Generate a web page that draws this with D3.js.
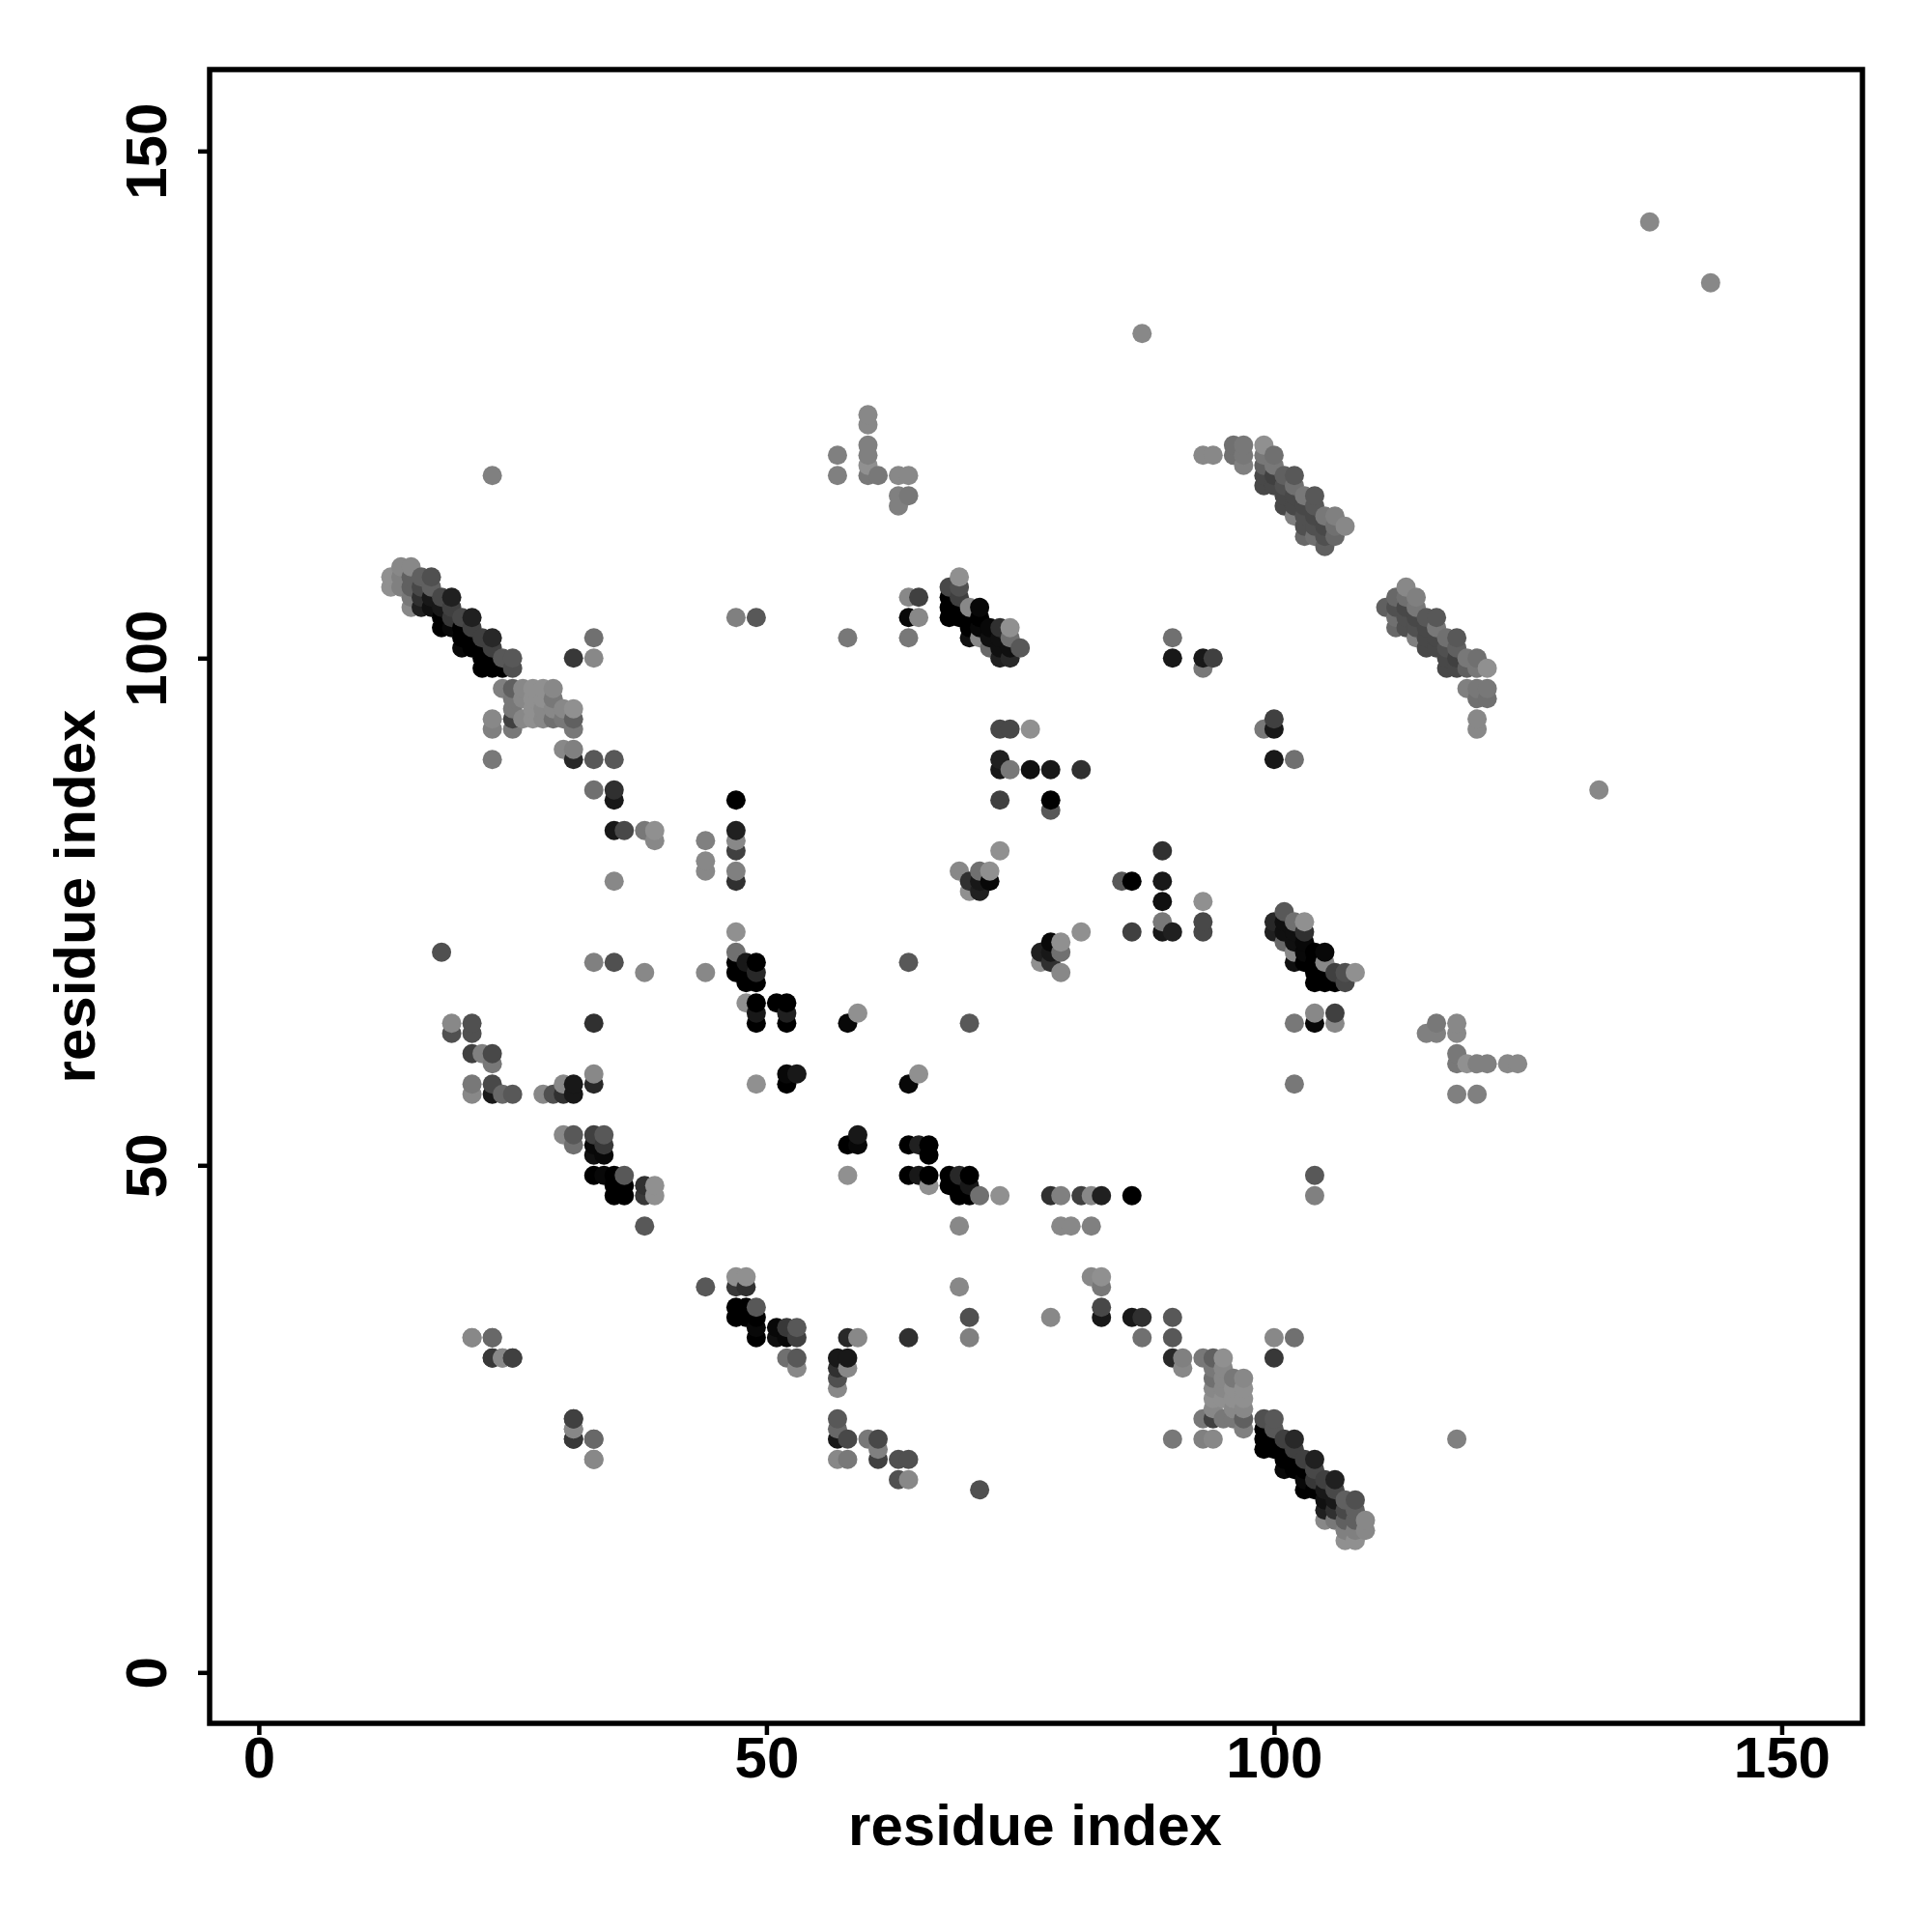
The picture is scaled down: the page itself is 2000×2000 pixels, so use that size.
<!DOCTYPE html>
<html>
<head>
<meta charset="utf-8">
<script src="https://cdn.jsdelivr.net/npm/d3@7/dist/d3.min.js"></script>
<style>
html,body{margin:0;padding:0;background:#fff;}
svg{display:block;}
text{font-family:"Liberation Sans",Arial,sans-serif;font-weight:700;fill:#000;}
</style>
</head>
<body>
<svg id="chart" width="2000" height="2000"></svg>
<script>
// Contacts [residue a, residue b, score], a < b. Score 0 (weak) to 90 (strong).
const xTicks = [0, 50, 100, 150];
const yTicks = [0, 50, 100, 150];
const xTitle = "residue index";
const yTitle = "residue index";

const helixBandA = [
[13,107,0],[13,108,0],[14,107,10],[14,108,10],[14,109,5],[15,105,5],[15,106,15],[15,107,30],[15,108,30],[15,109,5],
[16,105,70],[16,106,60],[16,107,45],[16,108,30],[17,105,80],[17,106,75],[17,107,30],[17,108,40],
[18,103,90],[18,104,90],[18,105,75],[18,106,45],[19,103,85],[19,104,55],[19,105,50],[19,106,70],
[20,101,85],[20,102,90],[20,103,90],[20,104,45],[21,101,90],[21,102,90],[21,103,50],[21,104,70],
[22,99,90],[22,100,90],[22,101,90],[22,102,50],[23,99,90],[23,100,90],[23,101,50],[23,102,65],
[24,99,90],[24,100,35],[25,99,40],[25,100,35]
];
const patchB = [
[23,90,15],[23,93,10],[23,94,5],[24,97,10],[25,93,15],[25,94,50],[25,95,15],[25,96,15],[25,97,30],
[26,94,5],[26,96,5],[26,97,5],[27,94,0],[27,95,0],[27,96,0],[27,97,0],[28,94,5],[28,95,5],[28,96,0],[28,97,0],
[29,94,20],[29,95,5],[29,96,15],[29,97,5],[30,91,5],[30,94,15],[30,95,5],
[31,90,65],[31,91,10],[31,93,15],[31,94,30],[31,95,0],
[31,100,55],[33,100,5],[33,102,20],[33,90,35],[35,90,35],[33,87,20],[35,86,75],[35,87,60]
];
const sheetC = [
[35,83,75],[36,83,45],[38,83,15],[39,82,5],[39,83,0],[35,78,5],
[44,79,5],[44,80,5],[44,82,10],[47,78,60],[47,79,10],[47,81,50],[47,82,5],[47,83,70],[47,86,90],
[47,69,90],[47,70,90],[47,71,20],[47,73,0],[48,68,90],[48,69,90],[48,70,75],[49,68,90],[49,69,65],[49,70,90],
[48,66,0],[49,64,90],[49,65,75],[49,66,90],[51,66,90],[52,64,90],[52,65,70],[52,66,90],
[33,70,10],[35,70,40],[38,69,5],[44,69,5],[18,71,40],[49,58,0],[52,58,90],[52,59,85],[53,59,75],[33,64,60]
];
const clusterD = [
[19,63,40],[19,64,5],[21,63,40],[21,64,40],[21,61,50],[22,61,10],[23,60,15],[23,61,45],
[21,57,5],[21,58,15],[23,57,75],[23,58,45],[24,57,25],[25,57,35],
[28,57,5],[29,57,40],[30,57,60],[30,58,5],[31,57,75],[31,58,75],[33,58,65],[33,59,5],
[30,53,5],[31,52,20],[31,53,35],[33,51,80],[33,52,85],[33,53,50],[34,51,85],[34,52,55],[34,53,35],
[33,49,90],[34,49,85],[35,49,90],[36,49,35],[35,47,90],[35,48,90],[36,47,90],[36,48,90],
[38,44,35],[38,47,55],[38,48,60],[39,47,0],[39,48,0],
[21,33,5],[23,33,25],[23,31,55],[24,31,5],[25,31,50],
[31,23,55],[31,24,5],[31,25,50],[33,23,25],[33,21,5]
];
const sheetE = [
[57,118,10],[57,120,10],[60,118,15],[60,119,0],[60,120,10],[60,121,10],[60,123,5],[60,124,5],[61,118,15],
[63,115,10],[63,116,10],[63,118,5],[64,116,15],[64,118,5],
[47,104,10],[49,104,35],[58,102,15],[64,102,15],[64,104,85],[64,106,5],[65,104,5],[65,106,50],
[58,64,85],[59,65,0],[64,70,35],
[68,104,90],[68,105,90],[68,106,90],[68,107,45],[69,104,90],[69,105,90],[69,106,50],[69,107,40],[69,108,0],
[70,102,80],[70,103,90],[70,104,90],[70,105,5],[71,102,5],[71,103,85],[71,104,90],[71,105,85],
[72,101,25],[72,102,80],[72,103,85],[73,100,70],[73,101,80],[73,102,80],[73,103,60],
[74,100,65],[74,101,80],[74,102,20],[74,103,0],[75,101,35]
];
const centreF = [
[73,93,45],[74,93,45],[76,93,0],[73,90,70],[73,89,75],[74,89,15],[76,89,80],[78,89,75],[81,89,60],
[73,86,50],[78,85,35],[78,86,90],[73,81,0],[69,79,5],[70,77,0],[70,78,60],[71,77,70],[71,78,75],[71,79,20],[72,78,85],[72,79,0]
];
const helixBandG = [
[93,120,5],[94,120,5],[96,120,20],[96,121,20],[97,119,10],[97,120,15],[97,121,15],
[99,117,45],[99,118,45],[99,119,30],[99,120,15],[99,121,0],[100,117,45],[100,118,50],[100,119,15],[100,120,20],
[101,115,45],[101,116,45],[101,117,40],[101,118,30],[102,114,10],[102,115,45],[102,116,45],[102,117,20],[102,118,35],
[103,112,25],[103,113,40],[103,114,40],[103,115,45],[103,116,15],[104,112,20],[104,113,40],[104,114,45],[104,115,35],[104,116,35],
[105,111,30],[105,112,40],[105,113,45],[105,114,15],[106,112,25],[106,113,20],[106,114,10],[107,113,5]
];
const scatterH = [
[23,118,10],[87,132,5],[137,143,5],[90,100,75],[90,102,20],[93,99,15],[93,100,75],[94,100,50]
];

const contacts = [helixBandA, patchB, sheetC, clusterD, sheetE, centreF, helixBandG, scatterH].flat();

const svg = d3.select("#chart");
const frame = {left:217, right:1928, top:72, bottom:1784};
const x = d3.scaleLinear().domain([0,150]).range([267.9,1844.4]);
const y = d3.scaleLinear().domain([0,150]).range([1731.3,156.3]);
const shade = d3.scaleLinear().domain([0,90]).range([144,0]);

// Every contact is drawn at both (a,b) and (b,a); later residue indices paint on top.
const marks = contacts.flatMap(([a,b,s]) => [{i:a,j:b,s},{i:b,j:a,s}])
  .sort((p,q) => d3.ascending(p.i,q.i) || d3.ascending(p.j,q.j));

svg.append("g").selectAll("circle").data(marks).join("circle")
  .attr("cx", d => x(d.i)).attr("cy", d => y(d.j)).attr("r", 10)
  .attr("fill", d => { const g = Math.round(shade(d.s)); return `rgb(${g},${g},${g})`; });

svg.append("rect").attr("x",frame.left).attr("y",frame.top)
  .attr("width",frame.right-frame.left).attr("height",frame.bottom-frame.top)
  .attr("fill","none").attr("stroke","#000").attr("stroke-width",5.5);

const xAxis = svg.append("g").attr("transform",`translate(0,${frame.bottom})`)
  .call(d3.axisBottom(x).tickValues(xTicks).tickSize(12).tickPadding(0).tickFormat(d3.format("d")));
xAxis.select(".domain").remove();
xAxis.selectAll("line").attr("stroke","#000").attr("stroke-width",4.5);
xAxis.selectAll("text").attr("y",56).attr("dy",0).style("font-size","60px").attr("text-anchor","middle");

const yAxis = svg.append("g").attr("transform",`translate(${frame.left},0)`)
  .call(d3.axisLeft(y).tickValues(yTicks).tickSize(12).tickPadding(0).tickFormat(d3.format("d")));
yAxis.select(".domain").remove();
yAxis.selectAll("line").attr("stroke","#000").attr("stroke-width",4.5);
yAxis.selectAll("text").attr("x",0).attr("y",0).attr("dy",0).attr("text-anchor","middle")
  .attr("transform","translate(-45,0) rotate(-90)").style("font-size","60px");

svg.append("text").attr("x",(frame.left+frame.right)/2 - 1).attr("y",1910)
  .attr("text-anchor","middle").style("font-size","60px").text(xTitle);
svg.append("text").attr("transform",`translate(98,${(frame.top+frame.bottom)/2}) rotate(-90)`)
  .attr("text-anchor","middle").style("font-size","60px").text(yTitle);
</script>
</body>
</html>
